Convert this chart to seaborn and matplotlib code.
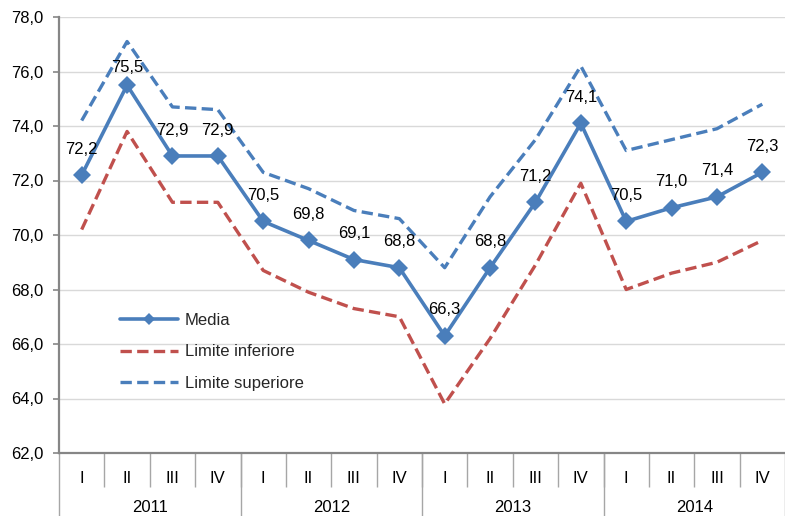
import numpy as np
import pandas as pd
import matplotlib
matplotlib.use("Agg")
import matplotlib.pyplot as plt
import matplotlib.transforms as mtransforms
from matplotlib.lines import Line2D
from matplotlib.ticker import FuncFormatter, MultipleLocator
import seaborn as sns

# Serie trimestrali 2011-2014
anni = ["2011", "2012", "2013", "2014"]
trimestri = ["I", "II", "III", "IV"]
media = [72.2, 75.5, 72.9, 72.9, 70.5, 69.8, 69.1, 68.8,
         66.3, 68.8, 71.2, 74.1, 70.5, 71.0, 71.4, 72.3]
limite_inferiore = [70.2, 73.8, 71.2, 71.2, 68.7, 67.9, 67.3, 67.0,
                    63.8, 66.2, 68.9, 71.9, 68.0, 68.6, 69.0, 69.8]
limite_superiore = [74.2, 77.1, 74.7, 74.6, 72.3, 71.7, 70.9, 70.6,
                    68.8, 71.4, 73.5, 76.2, 73.1, 73.5, 73.9, 74.8]

sns.set_theme(style="white")
plt.rcParams["font.family"] = ["Liberation Sans", "DejaVu Sans"]

BLU = "#4A7EBB"
ROSSO = "#C0504D"
GRIGIO_ASSE = "#868686"
GRIGIO_SEP = "#A6A6A6"
FS = 12

n = len(anni) * len(trimestri)
df = pd.DataFrame({
    "pos": np.arange(n),
    "Media": media,
    "Limite inferiore": limite_inferiore,
    "Limite superiore": limite_superiore,
})

W, H = 785, 516
fig = plt.figure(figsize=(W / 100, H / 100), dpi=100)
ax = fig.add_axes([59 / W, 1 - 453 / H, 726 / W, 436 / H])

tratteggio = (0, (3.4, 1.6))
sns.lineplot(data=df, x="pos", y="Limite superiore", ax=ax, color=BLU,
             lw=2.4, linestyle=tratteggio, zorder=3)
sns.lineplot(data=df, x="pos", y="Limite inferiore", ax=ax, color=ROSSO,
             lw=2.4, linestyle=tratteggio, zorder=3)
sns.lineplot(data=df, x="pos", y="Media", ax=ax, color=BLU, lw=2.6,
             marker="D", markersize=9.5, markeredgewidth=0, zorder=4)

# etichette dei valori medi
spostamenti = {1: 13}
for i, v in enumerate(media):
    ax.annotate(f"{v:.1f}".replace(".", ","), (i, v),
                xytext=(0, spostamenti.get(i, 18.7)), textcoords="offset points",
                ha="center", va="center", fontsize=FS, color="black", zorder=5)

# asse y
ax.set_ylim(62, 78)
ax.yaxis.set_major_locator(MultipleLocator(2))
ax.yaxis.set_major_formatter(FuncFormatter(lambda v, p: f"{v:.1f}".replace(".", ",")))
ax.yaxis.grid(True, color="#D9D9D9", lw=1)
ax.set_axisbelow(True)
ax.tick_params(axis="y", left=True, length=4, width=1.2, color=GRIGIO_ASSE,
               pad=7.5, labelsize=FS, labelcolor="black")
ax.set_ylabel("")

# asse x: trimestri e anni
ax.set_xlim(-0.5, n - 0.5)
ax.set_xticks(np.arange(n))
ax.set_xticklabels(trimestri * len(anni))
ax.set_xticks(np.arange(0.5, n - 0.5, 1), minor=True)
ax.tick_params(axis="x", which="major", length=0, pad=13, labelsize=FS,
               labelcolor="black")
ax.tick_params(axis="x", which="minor", bottom=True, length=24.5, width=1,
               color=GRIGIO_SEP, direction="out")
ax.set_xlabel("")

trans = mtransforms.blended_transform_factory(ax.transData, ax.transAxes)
fondo = -(H - 453) / 436
for k in range(len(anni) + 1):
    xs = k * len(trimestri) - 0.5
    ax.plot([xs, xs], [0, fondo], transform=trans, color=GRIGIO_SEP, lw=1,
            clip_on=False, zorder=1)
for k, anno in enumerate(anni):
    centro = k * len(trimestri) + (len(trimestri) - 1) / 2
    ax.text(centro, -(508 - 453) / 436, anno, transform=trans, ha="center",
            va="center", fontsize=FS, color="black")

for lato in ["top", "right"]:
    ax.spines[lato].set_visible(False)
for lato in ["left", "bottom"]:
    ax.spines[lato].set_color(GRIGIO_ASSE)
    ax.spines[lato].set_linewidth(1.6)

# legenda
maniglie = [
    Line2D([], [], color=BLU, lw=2.6, marker="D", markersize=6, markeredgewidth=0),
    Line2D([], [], color=ROSSO, lw=2.4, linestyle=tratteggio),
    Line2D([], [], color=BLU, lw=2.4, linestyle=tratteggio),
]
ax.legend(maniglie, ["Media", "Limite inferiore", "Limite superiore"],
          loc="center left", bbox_to_anchor=((120 - 59) / 726, (453 - 352) / 436),
          frameon=False, fontsize=12, handlelength=3.5, handletextpad=0.4,
          labelspacing=1.0, borderpad=0, borderaxespad=0, numpoints=1)

fig.savefig("out.png", dpi=100)
